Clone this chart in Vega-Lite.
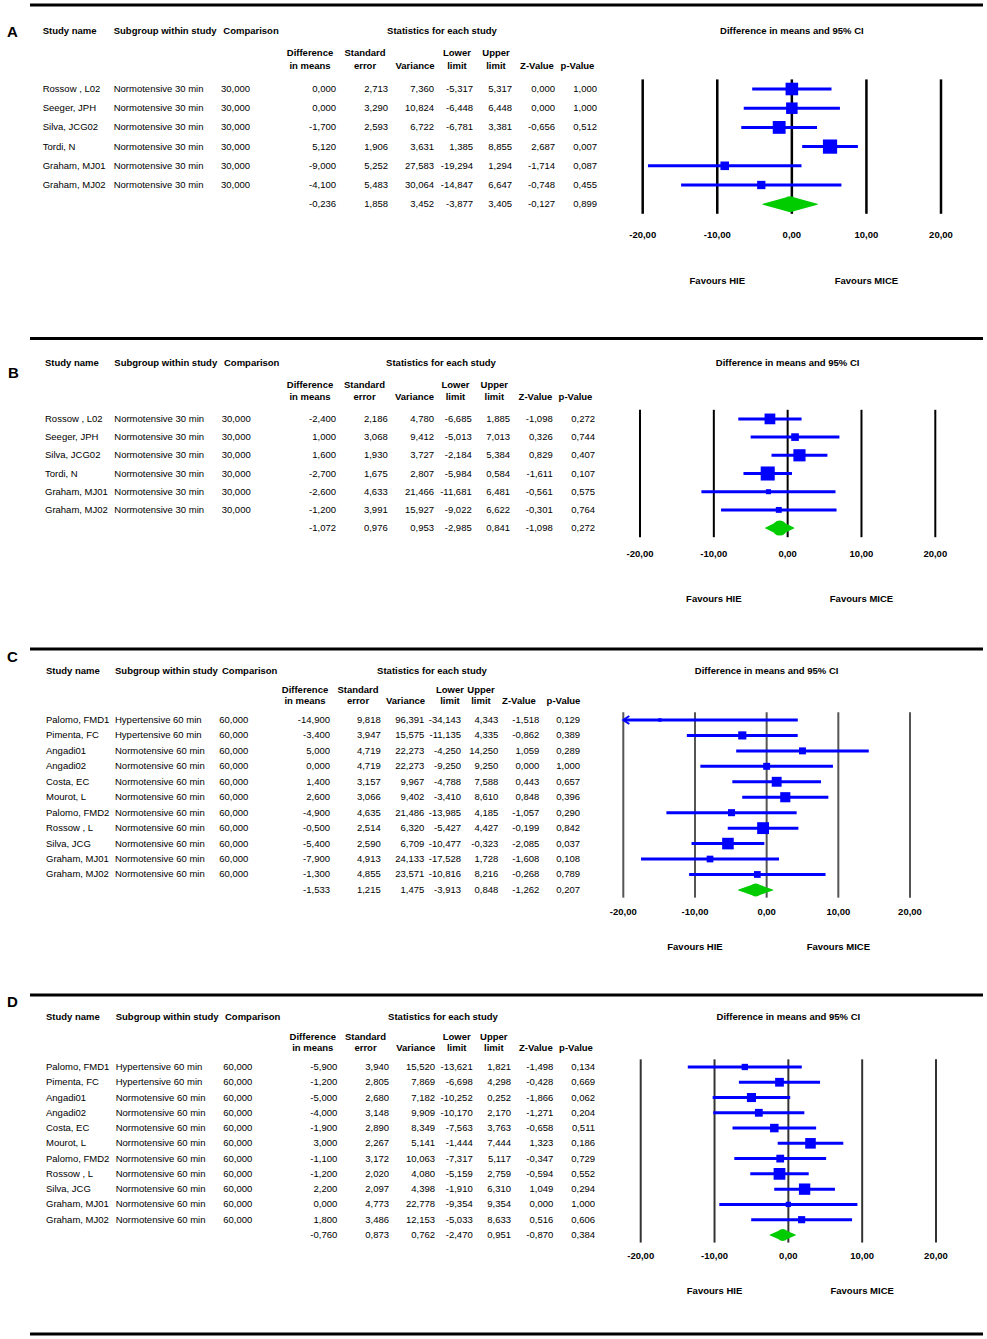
{
"$schema": "https://vega.github.io/schema/vega-lite/v6.json",
"padding": {"left": 7, "top": 0, "right": 4, "bottom": 0},
"spacing": 0,
"config": {
  "view": {"stroke": null},
  "locale": {"number": {"decimal": ",", "thousands": ".", "grouping": [3], "currency": ["", " €"], "minus": "-"}},
  "font": "Liberation Sans",
  "text": {"font": "Liberation Sans", "fontSize": 9.5, "color": "#000000"}
},
"datasets": {
  "separators": [{"panel":"A","slot":"r"},{"panel":"B","slot":"r"},{"panel":"C","slot":"r0"},{"panel":"D","slot":"r0"},{"panel":"D","slot":"bot"}],
  "letters": [{"panel":"A","letter":"A","slot":"h1","col":0},{"panel":"B","letter":"B","slot":"h1","col":0},{"panel":"C","letter":"C","slot":"h1","col":0},{"panel":"D","letter":"D","slot":"h1","col":0}],
  "columns": [{"key":"study","col":1},{"key":"subgroup","col":2},{"key":"comparison","col":3},{"key":"diff","col":4},{"key":"se","col":5},{"key":"variance","col":6},{"key":"lower","col":7},{"key":"upper","col":8},{"key":"z","col":9},{"key":"p","col":10}],
  "headers": [
    {"text":"Study name","slot":"h1","col":1,"kind":"left"},
    {"text":"Subgroup within study","slot":"h1","col":2,"kind":"left"},
    {"text":"Comparison","slot":"h1","col":3,"kind":"left"},
    {"text":"Statistics for each study","slot":"h1","col":11,"kind":"stat"},
    {"text":"Difference\nin means","slot":"h2","col":4,"kind":"column2"},
    {"text":"Standard\nerror","slot":"h2","col":5,"kind":"column2"},
    {"text":"Variance","slot":"h2","col":6,"kind":"column1"},
    {"text":"Lower\nlimit","slot":"h2","col":7,"kind":"column2"},
    {"text":"Upper\nlimit","slot":"h2","col":8,"kind":"column2"},
    {"text":"Z-Value","slot":"h2","col":9,"kind":"column1"},
    {"text":"p-Value","slot":"h2","col":10,"kind":"column1"}
  ],
  "ticks": [{"v":-20},{"v":-10},{"v":0},{"v":10},{"v":20}],
  "forestLabels": [{"text":"Difference in means and 95% CI","slot":"h1","v":0},{"text":"Favours HIE","slot":"fav","v":-10},{"text":"Favours MICE","slot":"fav","v":10}],
  "studies": [
    {"panel":"A","kind":"study","study":"Rossow , L02","subgroup":"Normotensive 30 min","comparison":30,"diff":0,"se":2.713,"variance":7.36,"lower":-5.317,"upper":5.317,"z":0,"p":1,"weight":19.8},
    {"panel":"A","kind":"study","study":"Seeger, JPH","subgroup":"Normotensive 30 min","comparison":30,"diff":0,"se":3.29,"variance":10.824,"lower":-6.448,"upper":6.448,"z":0,"p":1,"weight":16.6},
    {"panel":"A","kind":"study","study":"Silva, JCG02","subgroup":"Normotensive 30 min","comparison":30,"diff":-1.7,"se":2.593,"variance":6.722,"lower":-6.781,"upper":3.381,"z":-0.656,"p":0.512,"weight":20.6},
    {"panel":"A","kind":"study","study":"Tordi, N","subgroup":"Normotensive 30 min","comparison":30,"diff":5.12,"se":1.906,"variance":3.631,"lower":1.385,"upper":8.855,"z":2.687,"p":0.007,"weight":25.3},
    {"panel":"A","kind":"study","study":"Graham, MJ01","subgroup":"Normotensive 30 min","comparison":30,"diff":-9,"se":5.252,"variance":27.583,"lower":-19.294,"upper":1.294,"z":-1.714,"p":0.087,"weight":9.2},
    {"panel":"A","kind":"study","study":"Graham, MJ02","subgroup":"Normotensive 30 min","comparison":30,"diff":-4.1,"se":5.483,"variance":30.064,"lower":-14.847,"upper":6.647,"z":-0.748,"p":0.455,"weight":8.6},
    {"panel":"A","kind":"summary","study":"Summary","diff":-0.236,"se":1.858,"variance":3.452,"lower":-3.877,"upper":3.405,"z":-0.127,"p":0.899},
    {"panel":"B","kind":"study","study":"Rossow , L02","subgroup":"Normotensive 30 min","comparison":30,"diff":-2.4,"se":2.186,"variance":4.78,"lower":-6.685,"upper":1.885,"z":-1.098,"p":0.272,"weight":19.9},
    {"panel":"B","kind":"study","study":"Seeger, JPH","subgroup":"Normotensive 30 min","comparison":30,"diff":1,"se":3.068,"variance":9.412,"lower":-5.013,"upper":7.013,"z":0.326,"p":0.744,"weight":10.1},
    {"panel":"B","kind":"study","study":"Silva, JCG02","subgroup":"Normotensive 30 min","comparison":30,"diff":1.6,"se":1.93,"variance":3.727,"lower":-2.184,"upper":5.384,"z":0.829,"p":0.407,"weight":25.6},
    {"panel":"B","kind":"study","study":"Tordi, N","subgroup":"Normotensive 30 min","comparison":30,"diff":-2.7,"se":1.675,"variance":2.807,"lower":-5.984,"upper":0.584,"z":-1.611,"p":0.107,"weight":34.0},
    {"panel":"B","kind":"study","study":"Graham, MJ01","subgroup":"Normotensive 30 min","comparison":30,"diff":-2.6,"se":4.633,"variance":21.466,"lower":-11.681,"upper":6.481,"z":-0.561,"p":0.575,"weight":4.4},
    {"panel":"B","kind":"study","study":"Graham, MJ02","subgroup":"Normotensive 30 min","comparison":30,"diff":-1.2,"se":3.991,"variance":15.927,"lower":-9.022,"upper":6.622,"z":-0.301,"p":0.764,"weight":6.0},
    {"panel":"B","kind":"summary","study":"Summary","diff":-1.072,"se":0.976,"variance":0.953,"lower":-2.985,"upper":0.841,"z":-1.098,"p":0.272},
    {"panel":"C","kind":"study","study":"Palomo, FMD1","subgroup":"Hypertensive 60 min","comparison":60,"diff":-14.9,"se":9.818,"variance":96.391,"lower":-34.143,"upper":4.343,"z":-1.518,"p":0.129,"weight":1.5},
    {"panel":"C","kind":"study","study":"Pimenta, FC","subgroup":"Hypertensive 60 min","comparison":60,"diff":-3.4,"se":3.947,"variance":15.575,"lower":-11.135,"upper":4.335,"z":-0.862,"p":0.389,"weight":8.4},
    {"panel":"C","kind":"study","study":"Angadi01","subgroup":"Normotensive 60 min","comparison":60,"diff":5,"se":4.719,"variance":22.273,"lower":-4.25,"upper":14.25,"z":1.059,"p":0.289,"weight":6.1},
    {"panel":"C","kind":"study","study":"Angadi02","subgroup":"Normotensive 60 min","comparison":60,"diff":0,"se":4.719,"variance":22.273,"lower":-9.25,"upper":9.25,"z":0,"p":1,"weight":6.1},
    {"panel":"C","kind":"study","study":"Costa, EC","subgroup":"Normotensive 60 min","comparison":60,"diff":1.4,"se":3.157,"variance":9.967,"lower":-4.788,"upper":7.588,"z":0.443,"p":0.657,"weight":12.4},
    {"panel":"C","kind":"study","study":"Mourot, L","subgroup":"Normotensive 60 min","comparison":60,"diff":2.6,"se":3.066,"variance":9.402,"lower":-3.41,"upper":8.61,"z":0.848,"p":0.396,"weight":13.0},
    {"panel":"C","kind":"study","study":"Palomo, FMD2","subgroup":"Normotensive 60 min","comparison":60,"diff":-4.9,"se":4.635,"variance":21.486,"lower":-13.985,"upper":4.185,"z":-1.057,"p":0.29,"weight":6.3},
    {"panel":"C","kind":"study","study":"Rossow , L","subgroup":"Normotensive 60 min","comparison":60,"diff":-0.5,"se":2.514,"variance":6.32,"lower":-5.427,"upper":4.427,"z":-0.199,"p":0.842,"weight":17.8},
    {"panel":"C","kind":"study","study":"Silva, JCG","subgroup":"Normotensive 60 min","comparison":60,"diff":-5.4,"se":2.59,"variance":6.709,"lower":-10.477,"upper":-0.323,"z":-2.085,"p":0.037,"weight":17.0},
    {"panel":"C","kind":"study","study":"Graham, MJ01","subgroup":"Normotensive 60 min","comparison":60,"diff":-7.9,"se":4.913,"variance":24.133,"lower":-17.528,"upper":1.728,"z":-1.608,"p":0.108,"weight":5.7},
    {"panel":"C","kind":"study","study":"Graham, MJ02","subgroup":"Normotensive 60 min","comparison":60,"diff":-1.3,"se":4.855,"variance":23.571,"lower":-10.816,"upper":8.216,"z":-0.268,"p":0.789,"weight":5.8},
    {"panel":"C","kind":"summary","study":"Summary","diff":-1.533,"se":1.215,"variance":1.475,"lower":-3.913,"upper":0.848,"z":-1.262,"p":0.207},
    {"panel":"D","kind":"study","study":"Palomo, FMD1","subgroup":"Hypertensive 60 min","comparison":60,"diff":-5.9,"se":3.94,"variance":15.52,"lower":-13.621,"upper":1.821,"z":-1.498,"p":0.134,"weight":4.7},
    {"panel":"D","kind":"study","study":"Pimenta, FC","subgroup":"Hypertensive 60 min","comparison":60,"diff":-1.2,"se":2.805,"variance":7.869,"lower":-6.698,"upper":4.298,"z":-0.428,"p":0.669,"weight":9.0},
    {"panel":"D","kind":"study","study":"Angadi01","subgroup":"Normotensive 60 min","comparison":60,"diff":-5,"se":2.68,"variance":7.182,"lower":-10.252,"upper":0.252,"z":-1.866,"p":0.062,"weight":9.7},
    {"panel":"D","kind":"study","study":"Angadi02","subgroup":"Normotensive 60 min","comparison":60,"diff":-4,"se":3.148,"variance":9.909,"lower":-10.17,"upper":2.17,"z":-1.271,"p":0.204,"weight":7.2},
    {"panel":"D","kind":"study","study":"Costa, EC","subgroup":"Normotensive 60 min","comparison":60,"diff":-1.9,"se":2.89,"variance":8.349,"lower":-7.563,"upper":3.763,"z":-0.658,"p":0.511,"weight":8.5},
    {"panel":"D","kind":"study","study":"Mourot, L","subgroup":"Normotensive 60 min","comparison":60,"diff":3,"se":2.267,"variance":5.141,"lower":-1.444,"upper":7.444,"z":1.323,"p":0.186,"weight":13.2},
    {"panel":"D","kind":"study","study":"Palomo, FMD2","subgroup":"Normotensive 60 min","comparison":60,"diff":-1.1,"se":3.172,"variance":10.063,"lower":-7.317,"upper":5.117,"z":-0.347,"p":0.729,"weight":7.1},
    {"panel":"D","kind":"study","study":"Rossow , L","subgroup":"Normotensive 60 min","comparison":60,"diff":-1.2,"se":2.02,"variance":4.08,"lower":-5.159,"upper":2.759,"z":-0.594,"p":0.552,"weight":16.2},
    {"panel":"D","kind":"study","study":"Silva, JCG","subgroup":"Normotensive 60 min","comparison":60,"diff":2.2,"se":2.097,"variance":4.398,"lower":-1.91,"upper":6.31,"z":1.049,"p":0.294,"weight":15.1},
    {"panel":"D","kind":"study","study":"Graham, MJ01","subgroup":"Normotensive 60 min","comparison":60,"diff":0,"se":4.773,"variance":22.778,"lower":-9.354,"upper":9.354,"z":0,"p":1,"weight":3.3},
    {"panel":"D","kind":"study","study":"Graham, MJ02","subgroup":"Normotensive 60 min","comparison":60,"diff":1.8,"se":3.486,"variance":12.153,"lower":-5.033,"upper":8.633,"z":0.516,"p":0.606,"weight":6.0},
    {"panel":"D","kind":"summary","study":"Summary","diff":-0.76,"se":0.873,"variance":0.762,"lower":-2.47,"upper":0.951,"z":-0.87,"p":0.384}
  ]
},
"resolve": {"scale": {"x": "independent", "y": "independent", "size": "independent"}},
"vconcat": [
{
 "width": 953, "height": 336.1,
 "resolve": {"scale": {"x": "independent"}},
 "layer": [
  {"data": {"name": "separators"}, "transform": [{"filter": "datum.panel == 'A'"}],
   "mark": {"type": "rule", "color": "#000000", "strokeWidth": 3},
   "encoding": {"y": {"field": "slot", "type": "nominal", "bandPosition": 0.125, "axis": null,
     "scale": {"type": "band", "domain": ["r","h1","g","h2","Rossow , L02","Seeger, JPH","Silva, JCG02","Tordi, N","Graham, MJ01","Graham, MJ02","Summary","x1","ax","f0","fav","e1"], "paddingInner": 0, "paddingOuter": 0.7526, "align": 0.09}}}},
  {"layer": [
    {"data": {"name": "letters"}, "transform": [{"filter": "datum.panel == 'A'"}],
     "mark": {"type": "text", "fontSize": 15, "fontWeight": "bold", "align": "left", "baseline": "middle", "dy": 0.6},
     "encoding": {"x": {"field": "col", "type": "quantitative", "axis": null, "scale": {"domain": [0,1,2,3], "range": [-23,12.7,83.7,193.3], "nice": false, "zero": false}},
       "y": {"field": "slot", "type": "nominal", "axis": null}, "text": {"field": "letter", "type": "nominal"}}},
    {"data": {"name": "headers"}, "transform": [{"filter": "datum.kind == 'left'"}],
     "mark": {"type": "text", "fontWeight": "bold", "align": "left", "baseline": "middle", "dy": 0},
     "encoding": {"x": {"field": "col", "type": "quantitative", "axis": null}, "y": {"field": "slot", "type": "nominal", "axis": null}, "text": {"field": "text", "type": "nominal"}}},
    {"data": {"name": "studies"}, "transform": [{"filter": "datum.panel == 'A' && datum.kind == 'study'"}, {"fold": ["study","subgroup"], "as": ["key","value"]}, {"lookup": "key", "from": {"data": {"name": "columns"}, "key": "key", "fields": ["col"]}}],
     "mark": {"type": "text", "align": "left", "baseline": "middle"},
     "encoding": {"x": {"field": "col", "type": "quantitative", "axis": null}, "y": {"field": "study", "type": "nominal", "axis": null}, "text": {"field": "value", "type": "nominal"}}}
  ]},
  {"data": {"name": "studies"}, "transform": [{"filter": "datum.panel == 'A'"}, {"fold": ["comparison","diff","se","variance","lower","upper","z","p"], "as": ["key","value"]}, {"filter": "isValid(datum.value)"}, {"lookup": "key", "from": {"data": {"name": "columns"}, "key": "key", "fields": ["col"]}}],
   "mark": {"type": "text", "align": "right", "baseline": "middle"},
   "encoding": {"x": {"field": "col", "type": "quantitative", "axis": null, "scale": {"domain": [3,4,5,6,7,8,9,10], "range": [220,306,358,404,443,482,525,567], "nice": false, "zero": false}},
     "y": {"field": "study", "type": "nominal", "axis": null}, "text": {"field": "value", "type": "quantitative", "format": ".3f"}}},
  {"layer": [
    {"data": {"name": "headers"}, "transform": [{"filter": "datum.kind == 'stat'"}],
     "mark": {"type": "text", "fontWeight": "bold", "align": "center", "baseline": "middle", "dy": 0},
     "encoding": {"x": {"field": "col", "type": "quantitative", "axis": null, "scale": {"domain": [4,5,6,7,8,9,10,11], "range": [280,335,385,427,466,507,547.5,412], "nice": false, "zero": false}},
       "y": {"field": "slot", "type": "nominal", "axis": null}, "text": {"field": "text", "type": "nominal"}}},
    {"data": {"name": "headers"}, "transform": [{"filter": "datum.kind == 'column2'"}],
     "mark": {"type": "text", "fontWeight": "bold", "align": "center", "baseline": "alphabetic", "dy": -13.5, "lineBreak": "\n", "lineHeight": 13},
     "encoding": {"x": {"field": "col", "type": "quantitative", "axis": null}, "y": {"field": "slot", "type": "nominal", "axis": null}, "text": {"field": "text", "type": "nominal"}}},
    {"data": {"name": "headers"}, "transform": [{"filter": "datum.kind == 'column1'"}],
     "mark": {"type": "text", "fontWeight": "bold", "align": "center", "baseline": "alphabetic", "dy": -0.5},
     "encoding": {"x": {"field": "col", "type": "quantitative", "axis": null}, "y": {"field": "slot", "type": "nominal", "axis": null}, "text": {"field": "text", "type": "nominal"}}}
  ]},
  {"resolve": {"scale": {"size": "independent"}},
   "layer": [
    {"data": {"name": "ticks"}, "mark": {"type": "rule", "color": "#000000", "strokeWidth": 2.5},
     "encoding": {"x": {"field": "v", "type": "quantitative", "axis": null, "scale": {"domain": [-20,20], "range": [612.7,911], "clamp": true, "nice": false, "zero": false}},
       "y": {"datum": "Rossow , L02", "type": "nominal", "bandPosition": 0, "axis": null}, "y2": {"datum": "Summary", "bandPosition": 1}}},
    {"data": {"name": "studies"}, "transform": [{"filter": "datum.panel == 'A' && datum.kind == 'study'"}],
     "mark": {"type": "rule", "color": "#0000ff", "strokeWidth": 3},
     "encoding": {"x": {"field": "lower", "type": "quantitative", "axis": null}, "x2": {"field": "upper"}, "y": {"field": "study", "type": "nominal", "axis": null}}},
    {"data": {"name": "studies"}, "transform": [{"filter": "datum.panel == 'A' && datum.kind == 'study'"}],
     "mark": {"type": "point", "shape": "square", "filled": true, "color": "#0000ff", "opacity": 1},
     "encoding": {"x": {"field": "diff", "type": "quantitative", "axis": null}, "y": {"field": "study", "type": "nominal", "axis": null},
       "size": {"field": "weight", "type": "quantitative", "legend": null, "scale": {"domain": [0,100], "range": [0,800]}}}},
    {"data": {"name": "studies"}, "transform": [{"filter": "datum.panel == 'A' && datum.kind == 'summary'"}, {"fold": ["lower","diff","upper"], "as": ["key","value"]}],
     "mark": {"type": "trail", "color": "#00cc00", "opacity": 1},
     "encoding": {"x": {"field": "value", "type": "quantitative", "axis": null}, "y": {"field": "study", "type": "nominal", "axis": null},
       "size": {"field": "key", "type": "ordinal", "legend": null, "scale": {"type": "ordinal", "domain": ["lower","diff","upper"], "range": [0,16,0]}}}},
    {"data": {"name": "ticks"}, "mark": {"type": "text", "fontWeight": "bold", "align": "center", "baseline": "middle", "dy": 11.6},
     "encoding": {"x": {"field": "v", "type": "quantitative", "axis": null}, "y": {"datum": "x1", "type": "nominal", "axis": null}, "text": {"field": "v", "type": "quantitative", "format": ".2f"}}},
    {"data": {"name": "forestLabels"}, "transform": [{"filter": "datum.slot == 'h1'"}],
     "mark": {"type": "text", "fontWeight": "bold", "align": "center", "baseline": "middle", "dy": 0},
     "encoding": {"x": {"field": "v", "type": "quantitative", "axis": null}, "y": {"field": "slot", "type": "nominal", "axis": null}, "text": {"field": "text", "type": "nominal"}}},
    {"data": {"name": "forestLabels"}, "transform": [{"filter": "datum.slot == 'fav'"}],
     "mark": {"type": "text", "fontWeight": "bold", "align": "center", "baseline": "middle", "dy": 0},
     "encoding": {"x": {"field": "v", "type": "quantitative", "axis": null}, "y": {"field": "slot", "type": "nominal", "axis": null}, "text": {"field": "text", "type": "nominal"}}}
   ]}
 ]
},
{
 "width": 953, "height": 297.95,
 "resolve": {"scale": {"x": "independent"}},
 "layer": [
  {"data": {"name": "separators"}, "transform": [{"filter": "datum.panel == 'B'"}],
   "mark": {"type": "rule", "color": "#000000", "strokeWidth": 3},
   "encoding": {"y": {"field": "slot", "type": "nominal", "bandPosition": 0.088, "axis": null,
     "scale": {"type": "band", "domain": ["r","h1","g","h2","Rossow , L02","Seeger, JPH","Silva, JCG02","Tordi, N","Graham, MJ01","Graham, MJ02","Summary","x1","ax","f0","fav"], "paddingInner": 0, "paddingOuter": 0.6854, "align": 0}}}},
  {"layer": [
    {"data": {"name": "letters"}, "transform": [{"filter": "datum.panel == 'B'"}],
     "mark": {"type": "text", "fontSize": 15, "fontWeight": "bold", "align": "left", "baseline": "middle", "dy": 9},
     "encoding": {"x": {"field": "col", "type": "quantitative", "axis": null, "scale": {"domain": [0,1,2,3], "range": [-22,15,84.3,194], "nice": false, "zero": false}},
       "y": {"field": "slot", "type": "nominal", "axis": null}, "text": {"field": "letter", "type": "nominal"}}},
    {"data": {"name": "headers"}, "transform": [{"filter": "datum.kind == 'left'"}],
     "mark": {"type": "text", "fontWeight": "bold", "align": "left", "baseline": "middle", "dy": -1},
     "encoding": {"x": {"field": "col", "type": "quantitative", "axis": null}, "y": {"field": "slot", "type": "nominal", "axis": null}, "text": {"field": "text", "type": "nominal"}}},
    {"data": {"name": "studies"}, "transform": [{"filter": "datum.panel == 'B' && datum.kind == 'study'"}, {"fold": ["study","subgroup"], "as": ["key","value"]}, {"lookup": "key", "from": {"data": {"name": "columns"}, "key": "key", "fields": ["col"]}}],
     "mark": {"type": "text", "align": "left", "baseline": "middle"},
     "encoding": {"x": {"field": "col", "type": "quantitative", "axis": null}, "y": {"field": "study", "type": "nominal", "axis": null}, "text": {"field": "value", "type": "nominal"}}}
  ]},
  {"data": {"name": "studies"}, "transform": [{"filter": "datum.panel == 'B'"}, {"fold": ["comparison","diff","se","variance","lower","upper","z","p"], "as": ["key","value"]}, {"filter": "isValid(datum.value)"}, {"lookup": "key", "from": {"data": {"name": "columns"}, "key": "key", "fields": ["col"]}}],
   "mark": {"type": "text", "align": "right", "baseline": "middle"},
   "encoding": {"x": {"field": "col", "type": "quantitative", "axis": null, "scale": {"domain": [3,4,5,6,7,8,9,10], "range": [220.7,306,357.7,404,441.7,480,522.7,565], "nice": false, "zero": false}},
     "y": {"field": "study", "type": "nominal", "axis": null}, "text": {"field": "value", "type": "quantitative", "format": ".3f"}}},
  {"layer": [
    {"data": {"name": "headers"}, "transform": [{"filter": "datum.kind == 'stat'"}],
     "mark": {"type": "text", "fontWeight": "bold", "align": "center", "baseline": "middle", "dy": -1},
     "encoding": {"x": {"field": "col", "type": "quantitative", "axis": null, "scale": {"domain": [4,5,6,7,8,9,10,11], "range": [280,334.5,384.5,425.5,464.3,505.5,545.5,411], "nice": false, "zero": false}},
       "y": {"field": "slot", "type": "nominal", "axis": null}, "text": {"field": "text", "type": "nominal"}}},
    {"data": {"name": "headers"}, "transform": [{"filter": "datum.kind == 'column2'"}],
     "mark": {"type": "text", "fontWeight": "bold", "align": "center", "baseline": "alphabetic", "dy": -12.5, "lineBreak": "\n", "lineHeight": 12},
     "encoding": {"x": {"field": "col", "type": "quantitative", "axis": null}, "y": {"field": "slot", "type": "nominal", "axis": null}, "text": {"field": "text", "type": "nominal"}}},
    {"data": {"name": "headers"}, "transform": [{"filter": "datum.kind == 'column1'"}],
     "mark": {"type": "text", "fontWeight": "bold", "align": "center", "baseline": "alphabetic", "dy": -0.5},
     "encoding": {"x": {"field": "col", "type": "quantitative", "axis": null}, "y": {"field": "slot", "type": "nominal", "axis": null}, "text": {"field": "text", "type": "nominal"}}}
  ]},
  {"resolve": {"scale": {"size": "independent"}},
   "layer": [
    {"data": {"name": "ticks"}, "mark": {"type": "rule", "color": "#000000", "strokeWidth": 2},
     "encoding": {"x": {"field": "v", "type": "quantitative", "axis": null, "scale": {"domain": [-20,20], "range": [610,905.3], "clamp": true, "nice": false, "zero": false}},
       "y": {"datum": "Rossow , L02", "type": "nominal", "bandPosition": 0, "axis": null}, "y2": {"datum": "Summary", "bandPosition": 1}}},
    {"data": {"name": "studies"}, "transform": [{"filter": "datum.panel == 'B' && datum.kind == 'study'"}],
     "mark": {"type": "rule", "color": "#0000ff", "strokeWidth": 3},
     "encoding": {"x": {"field": "lower", "type": "quantitative", "axis": null}, "x2": {"field": "upper"}, "y": {"field": "study", "type": "nominal", "axis": null}}},
    {"data": {"name": "studies"}, "transform": [{"filter": "datum.panel == 'B' && datum.kind == 'study'"}],
     "mark": {"type": "point", "shape": "square", "filled": true, "color": "#0000ff", "opacity": 1},
     "encoding": {"x": {"field": "diff", "type": "quantitative", "axis": null}, "y": {"field": "study", "type": "nominal", "axis": null},
       "size": {"field": "weight", "type": "quantitative", "legend": null, "scale": {"domain": [0,100], "range": [0,580]}}}},
    {"data": {"name": "studies"}, "transform": [{"filter": "datum.panel == 'B' && datum.kind == 'summary'"}, {"fold": ["lower","diff","upper"], "as": ["key","value"]}],
     "mark": {"type": "trail", "color": "#00cc00", "opacity": 1},
     "encoding": {"x": {"field": "value", "type": "quantitative", "axis": null}, "y": {"field": "study", "type": "nominal", "axis": null},
       "size": {"field": "key", "type": "ordinal", "legend": null, "scale": {"type": "ordinal", "domain": ["lower","diff","upper"], "range": [0,15,0]}}}},
    {"data": {"name": "ticks"}, "mark": {"type": "text", "fontWeight": "bold", "align": "center", "baseline": "middle", "dy": 7.8},
     "encoding": {"x": {"field": "v", "type": "quantitative", "axis": null}, "y": {"datum": "x1", "type": "nominal", "axis": null}, "text": {"field": "v", "type": "quantitative", "format": ".2f"}}},
    {"data": {"name": "forestLabels"}, "transform": [{"filter": "datum.slot == 'h1'"}],
     "mark": {"type": "text", "fontWeight": "bold", "align": "center", "baseline": "middle", "dy": -1},
     "encoding": {"x": {"field": "v", "type": "quantitative", "axis": null}, "y": {"field": "slot", "type": "nominal", "axis": null}, "text": {"field": "text", "type": "nominal"}}},
    {"data": {"name": "forestLabels"}, "transform": [{"filter": "datum.slot == 'fav'"}],
     "mark": {"type": "text", "fontWeight": "bold", "align": "center", "baseline": "middle", "dy": -1.8},
     "encoding": {"x": {"field": "v", "type": "quantitative", "axis": null}, "y": {"field": "slot", "type": "nominal", "axis": null}, "text": {"field": "text", "type": "nominal"}}}
   ]}
 ]
},
{
 "width": 953, "height": 347.95,
 "resolve": {"scale": {"x": "independent"}},
 "layer": [
  {"data": {"name": "separators"}, "transform": [{"filter": "datum.panel == 'C'"}],
   "mark": {"type": "rule", "color": "#000000", "strokeWidth": 3},
   "encoding": {"y": {"field": "slot", "type": "nominal", "bandPosition": 0.9, "axis": null,
     "scale": {"type": "band", "domain": ["r0","r","h1","g","h2","Palomo, FMD1","Pimenta, FC","Angadi01","Angadi02","Costa, EC","Mourot, L","Palomo, FMD2","Rossow , L","Silva, JCG","Graham, MJ01","Graham, MJ02","Summary","x1","ax","f0","fav"], "paddingInner": 0, "paddingOuter": 0.7605, "align": 0}}}},
  {"layer": [
    {"data": {"name": "letters"}, "transform": [{"filter": "datum.panel == 'C'"}],
     "mark": {"type": "text", "fontSize": 15, "fontWeight": "bold", "align": "left", "baseline": "middle", "dy": -17},
     "encoding": {"x": {"field": "col", "type": "quantitative", "axis": null, "scale": {"domain": [0,1,2,3], "range": [-23,16,85,192], "nice": false, "zero": false}},
       "y": {"field": "slot", "type": "nominal", "axis": null}, "text": {"field": "letter", "type": "nominal"}}},
    {"data": {"name": "headers"}, "transform": [{"filter": "datum.kind == 'left'"}],
     "mark": {"type": "text", "fontWeight": "bold", "align": "left", "baseline": "middle", "dy": -3},
     "encoding": {"x": {"field": "col", "type": "quantitative", "axis": null}, "y": {"field": "slot", "type": "nominal", "axis": null}, "text": {"field": "text", "type": "nominal"}}},
    {"data": {"name": "studies"}, "transform": [{"filter": "datum.panel == 'C' && datum.kind == 'study'"}, {"fold": ["study","subgroup"], "as": ["key","value"]}, {"lookup": "key", "from": {"data": {"name": "columns"}, "key": "key", "fields": ["col"]}}],
     "mark": {"type": "text", "align": "left", "baseline": "middle"},
     "encoding": {"x": {"field": "col", "type": "quantitative", "axis": null}, "y": {"field": "study", "type": "nominal", "axis": null}, "text": {"field": "value", "type": "nominal"}}}
  ]},
  {"data": {"name": "studies"}, "transform": [{"filter": "datum.panel == 'C'"}, {"fold": ["comparison","diff","se","variance","lower","upper","z","p"], "as": ["key","value"]}, {"filter": "isValid(datum.value)"}, {"lookup": "key", "from": {"data": {"name": "columns"}, "key": "key", "fields": ["col"]}}],
   "mark": {"type": "text", "align": "right", "baseline": "middle"},
   "encoding": {"x": {"field": "col", "type": "quantitative", "axis": null, "scale": {"domain": [3,4,5,6,7,8,9,10], "range": [218.3,300,350.7,394.3,431,468.3,509.3,550], "nice": false, "zero": false}},
     "y": {"field": "study", "type": "nominal", "axis": null}, "text": {"field": "value", "type": "quantitative", "format": ".3f"}}},
  {"layer": [
    {"data": {"name": "headers"}, "transform": [{"filter": "datum.kind == 'stat'"}],
     "mark": {"type": "text", "fontWeight": "bold", "align": "center", "baseline": "middle", "dy": -3},
     "encoding": {"x": {"field": "col", "type": "quantitative", "axis": null, "scale": {"domain": [4,5,6,7,8,9,10,11], "range": [275,328,375.5,420,451,489,533.5,402], "nice": false, "zero": false}},
       "y": {"field": "slot", "type": "nominal", "axis": null}, "text": {"field": "text", "type": "nominal"}}},
    {"data": {"name": "headers"}, "transform": [{"filter": "datum.kind == 'column2'"}],
     "mark": {"type": "text", "fontWeight": "bold", "align": "center", "baseline": "alphabetic", "dy": -11.25, "lineBreak": "\n", "lineHeight": 11},
     "encoding": {"x": {"field": "col", "type": "quantitative", "axis": null}, "y": {"field": "slot", "type": "nominal", "axis": null}, "text": {"field": "text", "type": "nominal"}}},
    {"data": {"name": "headers"}, "transform": [{"filter": "datum.kind == 'column1'"}],
     "mark": {"type": "text", "fontWeight": "bold", "align": "center", "baseline": "alphabetic", "dy": -0.25},
     "encoding": {"x": {"field": "col", "type": "quantitative", "axis": null}, "y": {"field": "slot", "type": "nominal", "axis": null}, "text": {"field": "text", "type": "nominal"}}}
  ]},
  {"resolve": {"scale": {"size": "independent"}},
   "layer": [
    {"data": {"name": "ticks"}, "mark": {"type": "rule", "color": "#555555", "strokeWidth": 2},
     "encoding": {"x": {"field": "v", "type": "quantitative", "axis": null, "scale": {"domain": [-20,20], "range": [593.3,880], "clamp": true, "nice": false, "zero": false}},
       "y": {"datum": "Palomo, FMD1", "type": "nominal", "bandPosition": 0, "axis": null}, "y2": {"datum": "Summary", "bandPosition": 1}}},
    {"data": {"name": "studies"}, "transform": [{"filter": "datum.panel == 'C' && datum.kind == 'study'"}],
     "mark": {"type": "rule", "color": "#0000ff", "strokeWidth": 3},
     "encoding": {"x": {"field": "lower", "type": "quantitative", "axis": null}, "x2": {"field": "upper"}, "y": {"field": "study", "type": "nominal", "axis": null}}},
    {"data": {"name": "studies"}, "transform": [{"filter": "datum.panel == 'C' && datum.kind == 'study' && datum.lower < -20"}],
     "mark": {"type": "point", "shape": "M1.2,-0.8L0,0L1.2,0.8", "filled": false, "stroke": "#0000ff", "strokeWidth": 2, "size": 100, "opacity": 1},
     "encoding": {"x": {"field": "lower", "type": "quantitative", "axis": null}, "y": {"field": "study", "type": "nominal", "axis": null}}},
    {"data": {"name": "studies"}, "transform": [{"filter": "datum.panel == 'C' && datum.kind == 'study'"}],
     "mark": {"type": "point", "shape": "square", "filled": true, "color": "#0000ff", "opacity": 1},
     "encoding": {"x": {"field": "diff", "type": "quantitative", "axis": null}, "y": {"field": "study", "type": "nominal", "axis": null},
       "size": {"field": "weight", "type": "quantitative", "legend": null, "scale": {"domain": [0,100], "range": [0,790]}}}},
    {"data": {"name": "studies"}, "transform": [{"filter": "datum.panel == 'C' && datum.kind == 'summary'"}, {"fold": ["lower","diff","upper"], "as": ["key","value"]}],
     "mark": {"type": "trail", "color": "#00cc00", "opacity": 1},
     "encoding": {"x": {"field": "value", "type": "quantitative", "axis": null}, "y": {"field": "study", "type": "nominal", "axis": null},
       "size": {"field": "key", "type": "ordinal", "legend": null, "scale": {"type": "ordinal", "domain": ["lower","diff","upper"], "range": [0,13,0]}}}},
    {"data": {"name": "ticks"}, "mark": {"type": "text", "fontWeight": "bold", "align": "center", "baseline": "middle", "dy": 6.5},
     "encoding": {"x": {"field": "v", "type": "quantitative", "axis": null}, "y": {"datum": "x1", "type": "nominal", "axis": null}, "text": {"field": "v", "type": "quantitative", "format": ".2f"}}},
    {"data": {"name": "forestLabels"}, "transform": [{"filter": "datum.slot == 'h1'"}],
     "mark": {"type": "text", "fontWeight": "bold", "align": "center", "baseline": "middle", "dy": -3},
     "encoding": {"x": {"field": "v", "type": "quantitative", "axis": null}, "y": {"field": "slot", "type": "nominal", "axis": null}, "text": {"field": "text", "type": "nominal"}}},
    {"data": {"name": "forestLabels"}, "transform": [{"filter": "datum.slot == 'fav'"}],
     "mark": {"type": "text", "fontWeight": "bold", "align": "center", "baseline": "middle", "dy": -4.8},
     "encoding": {"x": {"field": "v", "type": "quantitative", "axis": null}, "y": {"field": "slot", "type": "nominal", "axis": null}, "text": {"field": "text", "type": "nominal"}}}
   ]}
 ]
},
{
 "width": 953, "height": 357,
 "resolve": {"scale": {"x": "independent"}},
 "layer": [
  {"data": {"name": "separators"}, "transform": [{"filter": "datum.panel == 'D' && datum.slot == 'r0'"}],
   "mark": {"type": "rule", "color": "#000000", "strokeWidth": 3},
   "encoding": {"y": {"field": "slot", "type": "nominal", "bandPosition": 0.786, "axis": null,
     "scale": {"type": "band", "domain": ["r0","r","h1","g","h2","Palomo, FMD1","Pimenta, FC","Angadi01","Angadi02","Costa, EC","Mourot, L","Palomo, FMD2","Rossow , L","Silva, JCG","Graham, MJ01","Graham, MJ02","Summary","x1","ax","f0","fav","e1","bot"], "paddingInner": 0, "paddingOuter": 0.1896, "align": 0}}}},
  {"data": {"name": "separators"}, "transform": [{"filter": "datum.panel == 'D' && datum.slot == 'bot'"}],
   "mark": {"type": "rule", "color": "#000000", "strokeWidth": 3},
   "encoding": {"y": {"field": "slot", "type": "nominal", "bandPosition": 0.99, "axis": null}}},
  {"layer": [
    {"data": {"name": "letters"}, "transform": [{"filter": "datum.panel == 'D'"}],
     "mark": {"type": "text", "fontSize": 15, "fontWeight": "bold", "align": "left", "baseline": "middle", "dy": -19},
     "encoding": {"x": {"field": "col", "type": "quantitative", "axis": null, "scale": {"domain": [0,1,2,3], "range": [-23,16,85.7,195], "nice": false, "zero": false}},
       "y": {"field": "slot", "type": "nominal", "axis": null}, "text": {"field": "letter", "type": "nominal"}}},
    {"data": {"name": "headers"}, "transform": [{"filter": "datum.kind == 'left'"}],
     "mark": {"type": "text", "fontWeight": "bold", "align": "left", "baseline": "middle", "dy": -4.2},
     "encoding": {"x": {"field": "col", "type": "quantitative", "axis": null}, "y": {"field": "slot", "type": "nominal", "axis": null}, "text": {"field": "text", "type": "nominal"}}},
    {"data": {"name": "studies"}, "transform": [{"filter": "datum.panel == 'D' && datum.kind == 'study'"}, {"fold": ["study","subgroup"], "as": ["key","value"]}, {"lookup": "key", "from": {"data": {"name": "columns"}, "key": "key", "fields": ["col"]}}],
     "mark": {"type": "text", "align": "left", "baseline": "middle"},
     "encoding": {"x": {"field": "col", "type": "quantitative", "axis": null}, "y": {"field": "study", "type": "nominal", "axis": null}, "text": {"field": "value", "type": "nominal"}}}
  ]},
  {"data": {"name": "studies"}, "transform": [{"filter": "datum.panel == 'D'"}, {"fold": ["comparison","diff","se","variance","lower","upper","z","p"], "as": ["key","value"]}, {"filter": "isValid(datum.value)"}, {"lookup": "key", "from": {"data": {"name": "columns"}, "key": "key", "fields": ["col"]}}],
   "mark": {"type": "text", "align": "right", "baseline": "middle"},
   "encoding": {"x": {"field": "col", "type": "quantitative", "axis": null, "scale": {"domain": [3,4,5,6,7,8,9,10], "range": [222.3,307.3,359,405,442.7,481,523.3,565], "nice": false, "zero": false}},
     "y": {"field": "study", "type": "nominal", "axis": null}, "text": {"field": "value", "type": "quantitative", "format": ".3f"}}},
  {"layer": [
    {"data": {"name": "headers"}, "transform": [{"filter": "datum.kind == 'stat'"}],
     "mark": {"type": "text", "fontWeight": "bold", "align": "center", "baseline": "middle", "dy": -4.2},
     "encoding": {"x": {"field": "col", "type": "quantitative", "axis": null, "scale": {"domain": [4,5,6,7,8,9,10,11], "range": [282.8,335.5,385.8,426.7,463.8,505.8,546,413], "nice": false, "zero": false}},
       "y": {"field": "slot", "type": "nominal", "axis": null}, "text": {"field": "text", "type": "nominal"}}},
    {"data": {"name": "headers"}, "transform": [{"filter": "datum.kind == 'column2'"}],
     "mark": {"type": "text", "fontWeight": "bold", "align": "center", "baseline": "alphabetic", "dy": -11.4, "lineBreak": "\n", "lineHeight": 11},
     "encoding": {"x": {"field": "col", "type": "quantitative", "axis": null}, "y": {"field": "slot", "type": "nominal", "axis": null}, "text": {"field": "text", "type": "nominal"}}},
    {"data": {"name": "headers"}, "transform": [{"filter": "datum.kind == 'column1'"}],
     "mark": {"type": "text", "fontWeight": "bold", "align": "center", "baseline": "alphabetic", "dy": -0.4},
     "encoding": {"x": {"field": "col", "type": "quantitative", "axis": null}, "y": {"field": "slot", "type": "nominal", "axis": null}, "text": {"field": "text", "type": "nominal"}}}
  ]},
  {"resolve": {"scale": {"size": "independent"}},
   "layer": [
    {"data": {"name": "ticks"}, "mark": {"type": "rule", "color": "#333333", "strokeWidth": 2},
     "encoding": {"x": {"field": "v", "type": "quantitative", "axis": null, "scale": {"domain": [-20,20], "range": [610.7,906], "clamp": true, "nice": false, "zero": false}},
       "y": {"datum": "Palomo, FMD1", "type": "nominal", "bandPosition": 0, "axis": null}, "y2": {"datum": "Summary", "bandPosition": 1}}},
    {"data": {"name": "studies"}, "transform": [{"filter": "datum.panel == 'D' && datum.kind == 'study'"}],
     "mark": {"type": "rule", "color": "#0000ff", "strokeWidth": 3},
     "encoding": {"x": {"field": "lower", "type": "quantitative", "axis": null}, "x2": {"field": "upper"}, "y": {"field": "study", "type": "nominal", "axis": null}}},
    {"data": {"name": "studies"}, "transform": [{"filter": "datum.panel == 'D' && datum.kind == 'study'"}],
     "mark": {"type": "point", "shape": "square", "filled": true, "color": "#0000ff", "opacity": 1},
     "encoding": {"x": {"field": "diff", "type": "quantitative", "axis": null}, "y": {"field": "study", "type": "nominal", "axis": null},
       "size": {"field": "weight", "type": "quantitative", "legend": null, "scale": {"domain": [0,100], "range": [0,850]}}}},
    {"data": {"name": "studies"}, "transform": [{"filter": "datum.panel == 'D' && datum.kind == 'summary'"}, {"fold": ["lower","diff","upper"], "as": ["key","value"]}],
     "mark": {"type": "trail", "color": "#00cc00", "opacity": 1},
     "encoding": {"x": {"field": "value", "type": "quantitative", "axis": null}, "y": {"field": "study", "type": "nominal", "axis": null},
       "size": {"field": "key", "type": "ordinal", "legend": null, "scale": {"type": "ordinal", "domain": ["lower","diff","upper"], "range": [0,12,0]}}}},
    {"data": {"name": "ticks"}, "mark": {"type": "text", "fontWeight": "bold", "align": "center", "baseline": "middle", "dy": 5.7},
     "encoding": {"x": {"field": "v", "type": "quantitative", "axis": null}, "y": {"datum": "x1", "type": "nominal", "axis": null}, "text": {"field": "v", "type": "quantitative", "format": ".2f"}}},
    {"data": {"name": "forestLabels"}, "transform": [{"filter": "datum.slot == 'h1'"}],
     "mark": {"type": "text", "fontWeight": "bold", "align": "center", "baseline": "middle", "dy": -4.2},
     "encoding": {"x": {"field": "v", "type": "quantitative", "axis": null}, "y": {"field": "slot", "type": "nominal", "axis": null}, "text": {"field": "text", "type": "nominal"}}},
    {"data": {"name": "forestLabels"}, "transform": [{"filter": "datum.slot == 'fav'"}],
     "mark": {"type": "text", "fontWeight": "bold", "align": "center", "baseline": "middle", "dy": -5},
     "encoding": {"x": {"field": "v", "type": "quantitative", "axis": null}, "y": {"field": "slot", "type": "nominal", "axis": null}, "text": {"field": "text", "type": "nominal"}}}
   ]}
 ]
}
]
}
